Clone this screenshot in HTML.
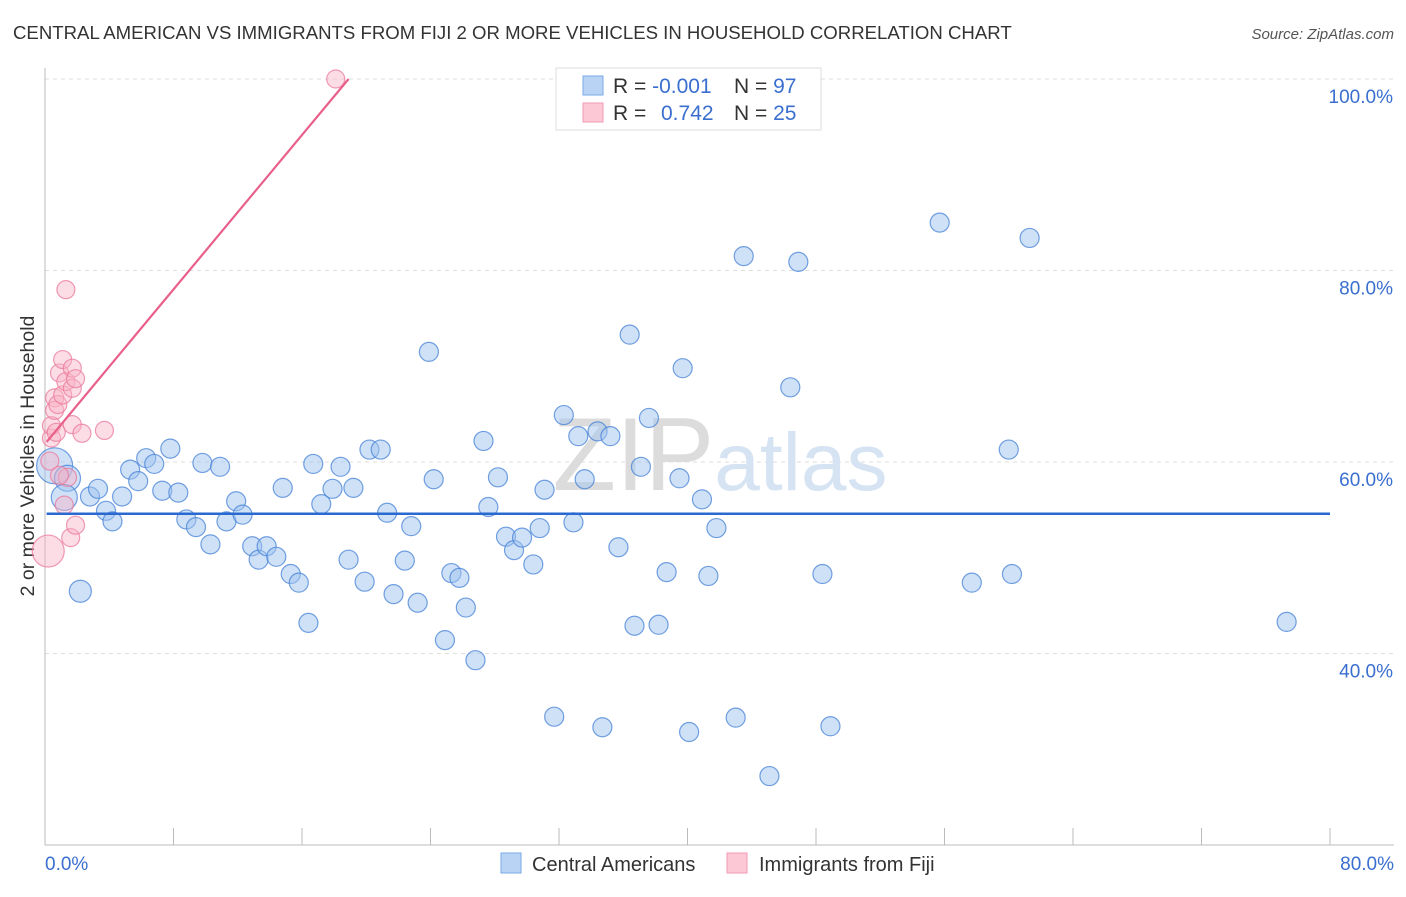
<!DOCTYPE html>
<html><head><meta charset="utf-8"><style>
body{margin:0;background:#fff;font-family:"Liberation Sans",sans-serif;}
svg text{font-family:"Liberation Sans",sans-serif;}
</style></head><body>
<svg id="chart" width="1406" height="892" viewBox="0 0 1406 892" xmlns="http://www.w3.org/2000/svg">
<text x="13" y="39" font-size="18.6" fill="#333">CENTRAL AMERICAN VS IMMIGRANTS FROM FIJI 2 OR MORE VEHICLES IN HOUSEHOLD CORRELATION CHART</text>
<text x="1394" y="39" font-size="15" fill="#555" text-anchor="end" font-style="italic">Source: ZipAtlas.com</text>
<text transform="translate(34,456) rotate(-90)" font-size="19.5" fill="#333" text-anchor="middle">2 or more Vehicles in Household</text>
<g id="grid"></g>
<g id="axes"></g>
<text x="720" y="490" font-size="104" text-anchor="middle" fill="#e4e4e4" font-family="Liberation Serif"><tspan fill="#dcdcdc">ZIP</tspan><tspan fill="#d6e3f3" font-family="Liberation Sans" font-size="82">atlas</tspan></text>
<g id="blue"></g>
<g id="pink"></g>
<g id="trends"></g>
<g>
<rect x="556" y="68" width="265" height="62" fill="#fff" stroke="#ddd"/>
<rect x="583" y="76" width="20" height="19" fill="#b9d3f5" stroke="#7aa8e6"/>
<rect x="583" y="103" width="20" height="19" fill="#fcc8d6" stroke="#f09ab3"/>
<text x="613" y="93" font-size="21" fill="#333">R = <tspan fill="#3a6fd0">-0.001</tspan></text>
<text x="734" y="93" font-size="21" fill="#333">N = <tspan fill="#3a6fd0">97</tspan></text>
<text x="613" y="120" font-size="21" fill="#333">R = </text>
<text x="661" y="120" font-size="21" fill="#3a6fd0">0.742</text>
<text x="734" y="120" font-size="21" fill="#333">N = <tspan fill="#3a6fd0">25</tspan></text>
</g>
<g>
<rect x="501" y="853" width="20" height="20" fill="#b9d3f5" stroke="#7aa8e6"/>
<text x="532" y="871" font-size="20" fill="#333">Central Americans</text>
<rect x="727" y="853" width="20" height="20" fill="#fcc8d6" stroke="#f09ab3"/>
<text x="759" y="871" font-size="20" fill="#333">Immigrants from Fiji</text>
</g>
</svg>
<script>
const blueX=[0.6,1.4,1.2,2.2,2.8,3.3,3.8,4.2,4.8,5.3,5.8,6.3,6.8,7.3,7.8,8.3,8.8,9.4,9.8,10.3,10.9,11.3,11.9,12.3,12.9,13.3,13.8,14.4,14.8,15.3,15.8,16.4,16.7,17.2,17.9,18.4,18.9,19.2,19.9,20.2,20.9,21.3,21.7,22.4,22.8,23.2,23.9,24.2,24.9,25.3,25.8,26.2,26.8,27.3,27.6,28.2,28.7,29.2,29.7,30.4,30.8,31.1,31.7,32.3,32.9,33.2,33.6,34.4,34.7,35.2,35.7,36.4,36.7,37.1,37.6,38.2,38.7,39.5,39.7,40.1,40.9,41.3,41.8,43.0,43.5,45.1,46.4,46.9,48.4,48.9,55.7,57.7,60.0,60.2,61.3,77.3];
const blueY=[59.6,58.3,56.3,46.5,56.4,57.2,54.9,53.8,56.4,59.2,58.0,60.4,59.8,57.0,61.4,56.8,54.0,53.2,59.9,51.4,59.5,53.8,55.9,54.5,51.2,49.8,51.2,50.1,57.3,48.3,47.4,43.2,59.8,55.6,57.2,59.5,49.8,57.3,47.5,61.3,61.3,54.7,46.2,49.7,53.3,45.3,71.5,58.2,41.4,48.4,47.9,44.8,39.3,62.2,55.3,58.4,52.2,50.8,52.1,49.3,53.1,57.1,33.4,64.9,53.7,62.7,58.2,63.2,32.3,62.7,51.1,73.3,42.9,59.5,64.6,43.0,48.5,58.3,69.8,31.8,56.1,48.1,53.1,33.3,81.5,27.2,67.8,80.9,48.3,32.4,85.0,47.4,61.3,48.3,83.4,43.3];
const pinkX=[0.2,0.4,0.6,0.4,0.6,0.8,0.9,1.1,1.3,1.1,1.2,1.3,1.6,1.7,1.7,1.9,1.4,1.7,1.9,2.3,3.7,18.1,0.3,0.7,0.9];
const pinkY=[50.7,62.5,66.7,63.8,65.4,66.0,69.3,70.7,78.0,67.0,55.5,68.4,52.1,67.7,63.9,53.4,58.4,69.8,68.7,63.0,63.3,100.0,60.1,63.1,58.6];
const blueTrend=[0.1,54.6,80,54.6];
const pinkTrend=[0.1,62.1,18.9,100];
const yTicks=[100,80,60,40];
const xTicks=[0,8,16,24,32,40,48,56,64,72,80];
const NS='http://www.w3.org/2000/svg';
const sx=v=>45+v*1285/80;
const sy=v=>845-(v-20)*191.5/20;
function mk(tag,attrs,parent){const e=document.createElementNS(NS,tag);for(const k in attrs)e.setAttribute(k,attrs[k]);parent.appendChild(e);return e;}
const grid=document.getElementById('grid'),axes=document.getElementById('axes');
yTicks.forEach(t=>{
 const l=mk('line',{x1:45,x2:1394,y1:sy(t),y2:sy(t),stroke:'#ddd','stroke-dasharray':'4,4'},grid);
 
 
 const tx=mk('text',{x:1393,y:sy(t)+24,'font-size':19,fill:'#3a6fd0','text-anchor':'end'},axes);
 tx.textContent=t.toFixed(1)+'%';
 
 
});
const xa=mk('line',{x1:45,x2:1394,y1:845,y2:845,stroke:'#bbb'},axes);


const ya=mk('line',{x1:45,x2:45,y1:68,y2:845,stroke:'#bbb'},axes);


xTicks.forEach(t=>{
 const l=mk('line',{x1:sx(t),x2:sx(t),y1:828,y2:845,stroke:'#bbb'},axes);
 
 
});
[[0,'start',45],[80,'end',1394]].forEach(([v,a,x])=>{
 const tx=mk('text',{x:x,y:870,'font-size':19,fill:'#3a6fd0','text-anchor':a},axes);
 tx.textContent=v.toFixed(1)+'%';
 
 
});
const blue=document.getElementById('blue');
blueX.forEach((x,i)=>{
 const r=i===0?18:(i<3?13:(i===3?11:9.5));
 const c=mk('circle',{cx:sx(x),cy:sy(blueY[i]),r:r,fill:'rgba(160,196,240,0.5)',stroke:'rgba(70,130,215,0.75)','stroke-width':1.2},blue);
 
 
});
const pink=document.getElementById('pink');
pinkX.forEach((x,i)=>{
 const r=i===0?16:9;
 const c=mk('circle',{cx:sx(x),cy:sy(pinkY[i]),r:r,fill:'rgba(248,180,200,0.45)',stroke:'rgba(235,120,155,0.75)','stroke-width':1.2},pink);
 
 
});
const tr=document.getElementById('trends');
const bl=mk('line',{x1:sx(blueTrend[0]),y1:sy(blueTrend[1]),x2:sx(blueTrend[2]),y2:sy(blueTrend[3]),stroke:'#2a6ad0','stroke-width':2.5},tr);


const pl=mk('line',{x1:sx(pinkTrend[0]),y1:sy(pinkTrend[1]),x2:sx(pinkTrend[2]),y2:sy(pinkTrend[3]),stroke:'#e8608a','stroke-width':2.2},tr);


</script>
</body></html>
